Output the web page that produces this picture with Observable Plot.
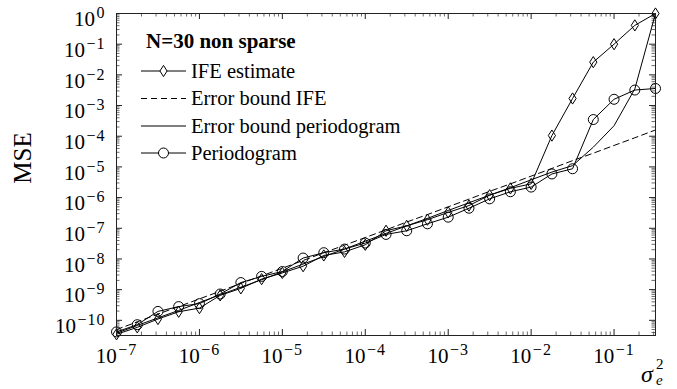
<!DOCTYPE html>
<html><head><meta charset="utf-8">
<script src="https://cdn.jsdelivr.net/npm/d3@7"></script>
<script src="https://cdn.jsdelivr.net/npm/@observablehq/plot@0.6"></script>
<style>html,body{margin:0;padding:0;background:#fff}svg{display:block}svg text{font-family:"Liberation Serif","DejaVu Serif",serif}</style>
</head><body><div id="chart"></div>
<script>
// noise variance sigma_e^2 (x axis)
const sigma2 = [1e-7, 1.78e-7, 3.16e-7, 5.62e-7, 1e-6, 1.78e-6, 3.16e-6, 5.62e-6, 1e-5, 1.78e-5, 3.16e-5, 5.62e-5, 1e-4, 1.78e-4, 3.16e-4, 5.62e-4, 1e-3, 1.78e-3, 3.16e-3, 5.62e-3, 1e-2, 1.78e-2, 3.16e-2, 5.62e-2, 0.1, 0.178, 0.316];
// IFE estimate (diamonds)
const mseIFE = [3.5e-11, 5.9e-11, 1.1e-10, 1.9e-10, 2.5e-10, 6.5e-10, 1.1e-9, 2.2e-9, 3.5e-9, 5.8e-9, 1.3e-8, 1.7e-8, 2.9e-8, 8.3e-8, 1.2e-7, 1.9e-7, 3.3e-7, 5.5e-7, 1.2e-6, 2.0e-6, 2.8e-6, 1.05e-4, 1.7e-3, 2.6e-2, 0.10, 0.41, 1.0];
// Error bound IFE (dashed)
const boundIFE = [5.0e-11, 8.9e-11, 1.6e-10, 2.8e-10, 5.0e-10, 8.9e-10, 1.6e-9, 2.8e-9, 5.0e-9, 8.9e-9, 1.6e-8, 2.8e-8, 5.0e-8, 8.9e-8, 1.6e-7, 2.8e-7, 5.0e-7, 8.9e-7, 1.6e-6, 2.8e-6, 5.0e-6, 8.9e-6, 1.6e-5, 2.8e-5, 5.0e-5, 8.9e-5, 1.6e-4];
// Error bound periodogram (solid, no marker)
const boundPeriodogram = [3.8e-11, 6.8e-11, 1.2e-10, 2.1e-10, 3.8e-10, 6.8e-10, 1.2e-9, 2.1e-9, 3.8e-9, 6.8e-9, 1.2e-8, 2.1e-8, 3.8e-8, 6.8e-8, 1.2e-7, 2.1e-7, 3.8e-7, 6.8e-7, 1.2e-6, 2.1e-6, 3.8e-6, 6.8e-6, 1.1e-5, 4.4e-5, 2.2e-4, 3.5e-3, 1.0];
// Periodogram (circles)
const msePeriodogram = [4.2e-11, 7.2e-11, 1.95e-10, 2.8e-10, 3.5e-10, 7.2e-10, 1.7e-9, 2.7e-9, 3.9e-9, 1.07e-8, 1.6e-8, 2.1e-8, 3.3e-8, 6.3e-8, 8.3e-8, 1.4e-7, 2.3e-7, 4.5e-7, 9.1e-7, 1.55e-6, 2.2e-6, 5.9e-6, 8.7e-6, 3.5e-4, 1.6e-3, 3.2e-3, 3.6e-3];

const xTicks = [1e-7, 1e-6, 1e-5, 1e-4, 1e-3, 1e-2, 1e-1];
const xTickLabels = ["10^−7", "10^−6", "10^−5", "10^−4", "10^−3", "10^−2", "10^−1"];
const yTicks = [1e-10, 1e-9, 1e-8, 1e-7, 1e-6, 1e-5, 1e-4, 1e-3, 1e-2, 1e-1, 1];
const yTickLabels = ["10^−10", "10^−9", "10^−8", "10^−7", "10^−6", "10^−5", "10^−4", "10^−3", "10^−2", "10^−1", "10^0"];
const yDomain = [3.2e-11, 1];
const legendTitle = "N=30 non sparse";
const legendLabels = ["IFE estimate", "Error bound IFE", "Error bound periodogram", "Periodogram"];
const yLabel = "MSE";

const W = 677, H = 389, mL = 116, mR = 22, mT = 13, mB = 54;
const fw = W - mL - mR, fh = H - mT - mB;
const FONT = '"Liberation Serif","DejaVu Serif",serif';

const rows = sigma2.map((x, i) => ({x, ife: mseIFE[i], bIFE: boundIFE[i], bPer: boundPeriodogram[i], per: msePeriodogram[i]}));

function minors(lo, hi) {
  const out = [];
  for (let e = Math.floor(Math.log10(lo)); e <= Math.ceil(Math.log10(hi)); e++)
    for (let m = 2; m <= 9; m++) { const v = m * Math.pow(10, e); if (v > lo && v < hi) out.push(v); }
  return out;
}
const xMinor = minors(sigma2[0], sigma2[sigma2.length - 1]);
const yMinor = minors(yDomain[0], yDomain[1]);

const tallDiamond = {draw(ctx) { const w = 3.6, h = 5.6; ctx.moveTo(0, -h); ctx.lineTo(w, 0); ctx.lineTo(0, h); ctx.lineTo(-w, 0); ctx.closePath(); }};

const xFmt = d => xTickLabels[xTicks.findIndex(t => Math.abs(Math.log10(t) - Math.log10(d)) < 1e-6)];
const yFmt = d => yTickLabels[yTicks.findIndex(t => Math.abs(Math.log10(t) - Math.log10(d)) < 1e-6)];

const chart = Plot.plot({
  width: W, height: H, marginLeft: mL, marginRight: mR, marginTop: mT, marginBottom: mB,
  x: {type: "log", domain: [sigma2[0], sigma2[sigma2.length - 1]]},
  y: {type: "log", domain: yDomain},
  style: {fontFamily: FONT, fontSize: "20px", color: "black", background: "white"},
  marks: [
    Plot.tickX(xTicks, {x: d => d, insetTop: fh - 6, stroke: "#222"}),
    Plot.tickX(xTicks, {x: d => d, insetBottom: fh - 6, stroke: "#222"}),
    Plot.tickX(xMinor, {x: d => d, insetTop: fh - 3.5, stroke: "#444", strokeWidth: 0.8}),
    Plot.tickX(xMinor, {x: d => d, insetBottom: fh - 3.5, stroke: "#444", strokeWidth: 0.8}),
    Plot.tickY(yTicks, {y: d => d, insetRight: fw - 6, stroke: "#222"}),
    Plot.tickY(yTicks, {y: d => d, insetLeft: fw - 6, stroke: "#222"}),
    Plot.tickY(yMinor, {y: d => d, insetRight: fw - 3.5, stroke: "#444", strokeWidth: 0.8}),
    Plot.tickY(yMinor, {y: d => d, insetLeft: fw - 3.5, stroke: "#444", strokeWidth: 0.8}),
    Plot.axisX({ticks: xTicks, tickSize: 0, tickPadding: 13, label: null, tickFormat: xFmt, fontSize: 21}),
    Plot.axisY({ticks: yTicks, tickSize: 0, tickPadding: 11, label: null, tickFormat: yFmt, fontSize: 21, dy: 6}),
    Plot.line(rows, {x: "x", y: "bIFE", stroke: "black", strokeWidth: 1, strokeDasharray: "6,4"}),
    Plot.line(rows, {x: "x", y: "bPer", stroke: "black", strokeWidth: 1}),
    Plot.line(rows, {x: "x", y: "ife", stroke: "black", strokeWidth: 1}),
    Plot.line(rows, {x: "x", y: "per", stroke: "black", strokeWidth: 1}),
    Plot.dot(rows, {x: "x", y: "ife", symbol: tallDiamond, stroke: "black", strokeWidth: 1, fill: "none"}),
    Plot.dot(rows, {x: "x", y: "per", r: 5, stroke: "black", strokeWidth: 1, fill: "none"}),
    Plot.frame({stroke: "#222", strokeWidth: 1})
  ]
});

document.getElementById("chart").appendChild(chart);
const ns = "http://www.w3.org/2000/svg";
// superscript exponents in tick labels
chart.querySelectorAll('text').forEach(t => {
  const s = t.textContent; if (!s || s.indexOf("^") < 0) return;
  const parts = s.split("^");
  t.textContent = parts[0];
  const ts = document.createElementNS(ns, "tspan");
  ts.setAttribute("dy", "-8"); ts.setAttribute("dx", "1.5"); ts.setAttribute("font-size", "16");
  ts.setAttribute("letter-spacing", "1");
  ts.textContent = parts[1];
  t.appendChild(ts);
});

const svg = d3.select(chart);
// y label
svg.append("text").attr("transform", "translate(31,158) rotate(-90)").attr("text-anchor", "middle")
  .attr("font-size", 25).attr("fill", "black").text(yLabel);
// x label sigma_e^2
const xl = svg.append("g").attr("fill", "black").attr("text-anchor", "start");
xl.append("text").attr("x", 641).attr("y", 382).attr("font-size", 24).attr("font-style", "italic").text("σ");
xl.append("text").attr("x", 656).attr("y", 369).attr("font-size", 15).text("2");
xl.append("text").attr("x", 656).attr("y", 385).attr("font-size", 15).attr("font-style", "italic").text("e");

// legend
const lg = svg.append("g").attr("fill", "black").attr("text-anchor", "start");
lg.append("text").attr("x", 146).attr("y", 48).attr("font-size", 21).attr("font-weight", "bold").text(legendTitle);
const rowsY = [71, 98.5, 126, 153];
const x0 = 141, x1 = 186, xc = (x0 + x1) / 2;
legendLabels.forEach((lab, i) => {
  const y = rowsY[i];
  const ln = lg.append("line").attr("x1", x0).attr("x2", x1).attr("y1", y).attr("y2", y).attr("stroke", "black").attr("stroke-width", 1);
  if (i === 1) ln.attr("stroke-dasharray", "6,4");
  if (i === 0) lg.append("path").attr("d", `M${xc},${y - 5.6}L${xc + 3.6},${y}L${xc},${y + 5.6}L${xc - 3.6},${y}Z`).attr("fill", "white").attr("stroke", "black");
  if (i === 3) lg.append("circle").attr("cx", xc).attr("cy", y).attr("r", 5).attr("fill", "white").attr("stroke", "black");
  lg.append("text").attr("x", 191).attr("y", y + 6.5).attr("font-size", 20.5).text(lab);
});
chart.querySelectorAll("text").forEach(t => { t.style.fontFamily = FONT; });
</script>
</body></html>
